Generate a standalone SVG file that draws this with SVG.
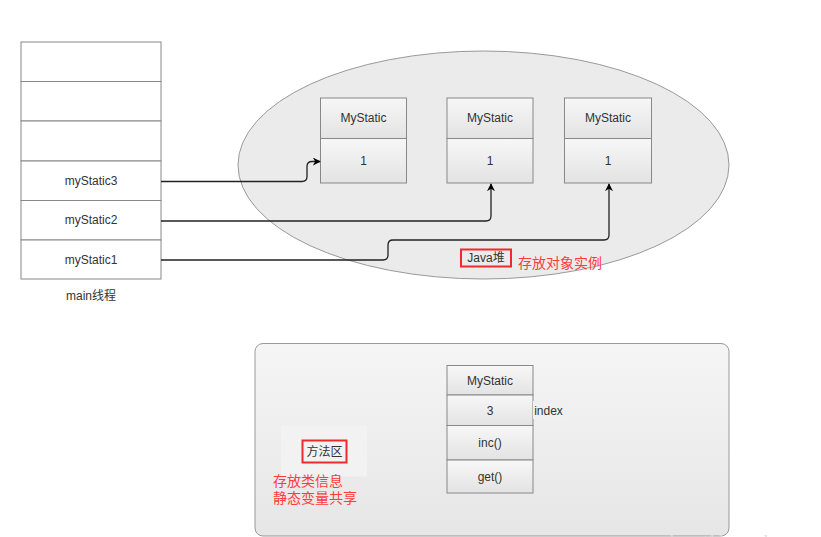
<svg xmlns="http://www.w3.org/2000/svg" width="821" height="537" viewBox="0 0 821 537">
<defs>
<linearGradient id="gBox" x1="0" y1="0" x2="0" y2="1"><stop offset="0" stop-color="#f7f7f7"/><stop offset="1" stop-color="#e3e3e3"/></linearGradient>
<linearGradient id="gArea" x1="0" y1="0" x2="0" y2="1"><stop offset="0" stop-color="#f5f5f5"/><stop offset="1" stop-color="#e6e6e6"/></linearGradient>
<marker id="arr" viewBox="0 0 10 10" refX="9" refY="5" markerWidth="8" markerHeight="8" markerUnits="userSpaceOnUse" orient="auto"><path d="M0,0 L10,5 L0,10 L3,5 Z" fill="#000"/></marker>
</defs>
<style>
.cell{fill:#fff;stroke:#888;stroke-width:1}
.box{fill:url(#gBox);stroke:#888;stroke-width:1}
.t{font-family:"Liberation Sans",Arial,sans-serif;font-size:12px;fill:#333;text-anchor:middle}
.red{font-family:"Liberation Sans","Noto Sans CJK SC",sans-serif;font-size:14px;fill:#ff3b3b}
.rbox{fill:none;stroke:#ee2a2a;stroke-width:2}
.conn{fill:none;stroke:#222;stroke-width:1.3;marker-end:url(#arr)}
</style>
<rect width="821" height="537" fill="#fff"/>
<g id="mainStack">
<rect class="cell" x="21" y="42" width="140" height="39.5"/>
<rect class="cell" x="21" y="81.5" width="140" height="39.5"/>
<rect class="cell" x="21" y="121" width="140" height="40"/>
<rect class="cell" x="21" y="161" width="140" height="39.5"/>
<rect class="cell" x="21" y="200.5" width="140" height="39.5"/>
<rect class="cell" x="21" y="240" width="140" height="39"/>
<text class="t" x="91" y="185">myStatic3</text>
<text class="t" x="91" y="224">myStatic2</text>
<text class="t" x="91" y="264">myStatic1</text>
<text class="t" x="91" y="300" style="font-family:'Liberation Sans','Noto Sans CJK SC',sans-serif">main线程</text>
</g>
<g id="heap">
<ellipse cx="483.5" cy="165" rx="245.5" ry="114" fill="#ebebeb" stroke="#999" stroke-width="1"/>
<rect x="461" y="249.5" width="50" height="17" fill="#f0f0f0" class="rbox"/>
<text class="t" x="486" y="262" style="font-family:'Liberation Sans','Noto Sans CJK SC',sans-serif">Java堆</text>
<text class="red" x="518" y="268">存放对象实例</text>
</g>
<g id="obj1">
<rect class="box" x="320.5" y="98" width="86" height="40.5"/>
<rect class="box" x="320.5" y="138.5" width="86" height="44.5"/>
<text class="t" x="363.5" y="122">MyStatic</text>
<text class="t" x="363.5" y="165">1</text>
</g>
<g id="obj2">
<rect class="box" x="447" y="98" width="86" height="40.5"/>
<rect class="box" x="447" y="138.5" width="86" height="44.5"/>
<text class="t" x="490" y="122">MyStatic</text>
<text class="t" x="490" y="165">1</text>
</g>
<g id="obj3">
<rect class="box" x="564.5" y="98" width="87" height="40.5"/>
<rect class="box" x="564.5" y="138.5" width="87" height="44.5"/>
<text class="t" x="608" y="122">MyStatic</text>
<text class="t" x="608" y="165">1</text>
</g>
<g id="connectors">
<path class="conn" d="M161,181.5 H302 Q307,181.5 307,176.5 V166.5 Q307,161.5 312,161.5 H320"/>
<path class="conn" d="M161,221 H486 Q491,221 491,216 V184"/>
<path class="conn" d="M161,260 H383 Q388,260 388,255 V245 Q388,240 393,240 H604 Q609,240 609,235 V184"/>
</g>
<g id="methodArea">
<rect x="255" y="343.5" width="474" height="192.5" rx="8" fill="url(#gArea)" stroke="#999" stroke-width="1"/>
<rect x="281" y="425.5" width="86" height="51" fill="#f2f2f2"/>
<rect x="302.5" y="440.5" width="44" height="22" fill="#f0f0f0" class="rbox"/>
<text class="t" x="324.5" y="456" style="font-family:'Noto Sans CJK SC',sans-serif">方法区</text>
<text class="red" x="273" y="486">存放类信息</text>
<text class="red" x="273" y="503">静态变量共享</text>
</g>
<g id="classBox">
<rect class="box" x="447" y="365.5" width="86" height="29.5"/>
<rect class="box" x="447" y="395" width="86" height="30.5"/>
<rect class="box" x="447" y="425.5" width="86" height="34.5"/>
<rect class="box" x="447" y="460" width="86" height="33"/>
<text class="t" x="490" y="385">MyStatic</text>
<text class="t" x="490" y="415">3</text>
<text class="t" x="490" y="447">inc()</text>
<text class="t" x="490" y="481">get()</text>
<rect x="533" y="401" width="31" height="18" fill="#f0f0f0"/>
<text class="t" x="548.5" y="415">index</text>
</g>
<text x="670" y="547" style="font-family:'Liberation Serif',serif;font-size:17px;fill:#dcdcdc">http://blog.csdn.n</text>
</svg>
